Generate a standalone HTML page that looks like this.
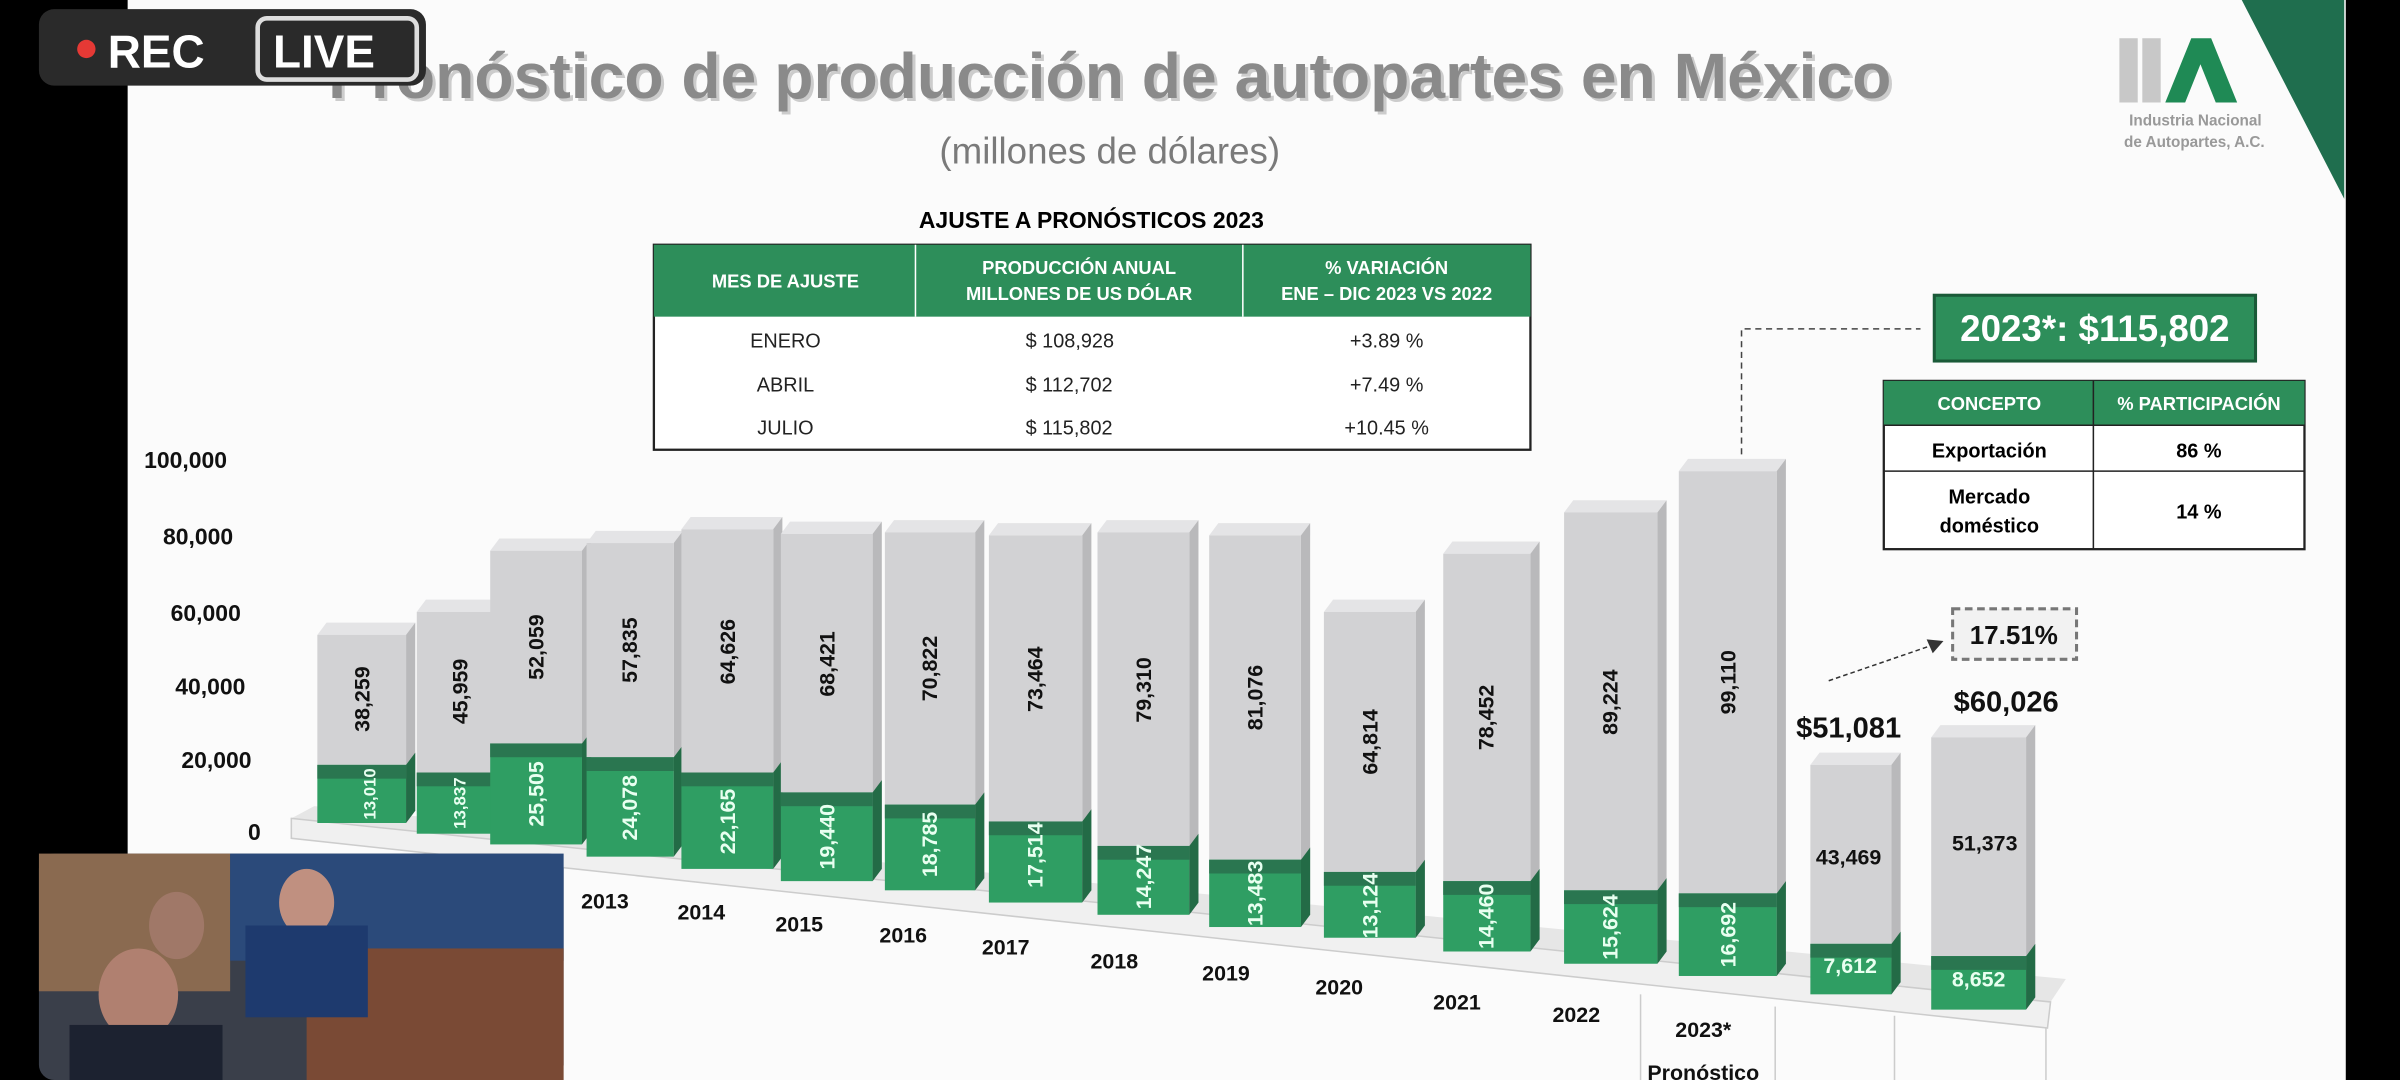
<!DOCTYPE html>
<html><head><meta charset="utf-8"><style>
html,body{margin:0;padding:0;background:#000;}
svg{display:block;}
text{font-family:"Liberation Sans",sans-serif;}
</style></head><body>
<svg width="2400" height="1080" viewBox="0 0 1568 706" xmlns="http://www.w3.org/2000/svg">
<rect x="0" y="0" width="1568" height="706" fill="#000"/>
<rect x="83" y="0" width="1450" height="706" fill="#fbfbfb"/>
<polygon points="1465,0 1532,0 1532,130" fill="#1f6e4e"/>
<rect x="1385" y="25" width="12" height="42" fill="#c8c8c8"/>
<rect x="1400" y="25" width="12" height="42" fill="#c8c8c8"/>
<polygon points="1415,67 1432,25 1445,25 1462,67 1448,67 1438,42 1428,67" fill="#1f8a55"/>
<text x="1478" y="82" font-size="10" font-weight="bold" fill="#999" text-anchor="end">Industria Nacional</text>
<text x="1480" y="96" font-size="10" font-weight="bold" fill="#999" text-anchor="end">de Autopartes, A.C.</text>
<text x="727" y="66" font-size="42" font-weight="bold" fill="#ccc" text-anchor="middle">Pronóstico de producción de autopartes en México</text>
<text x="725" y="64" font-size="42" font-weight="bold" fill="#8a8a8a" text-anchor="middle">Pronóstico de producción de autopartes en México</text>
<text x="725" y="107" font-size="24" fill="#7a7a7a" text-anchor="middle">(millones de dólares)</text>
<rect x="25" y="6" width="253" height="50" rx="10" fill="#2a2a2a"/>
<circle cx="56" cy="32" r="6" fill="#e53935"/>
<text x="70" y="44" font-size="30" font-weight="bold" fill="#fff">REC</text>
<rect x="168" y="12" width="104" height="40" rx="6" fill="none" stroke="#ddd" stroke-width="3"/>
<text x="178" y="44" font-size="30" font-weight="bold" fill="#fff">LIVE</text>
<text x="713" y="149" font-size="15" font-weight="bold" fill="#000" text-anchor="middle">AJUSTE A PRONÓSTICOS 2023</text>
<rect x="427" y="160" width="573" height="134" fill="#fff" stroke="#222" stroke-width="1.5"/>
<rect x="427" y="160" width="573" height="47" fill="#2d8e5a"/>
<line x1="598" y1="160" x2="598" y2="207" stroke="#fff"/><line x1="812" y1="160" x2="812" y2="207" stroke="#fff"/>
<g font-size="12" font-weight="bold" fill="#fff" text-anchor="middle">
<text x="513" y="188">MES DE AJUSTE</text>
<text x="705" y="179">PRODUCCIÓN ANUAL</text><text x="705" y="196">MILLONES DE US DÓLAR</text>
<text x="906" y="179">% VARIACIÓN</text><text x="906" y="196">ENE – DIC    2023 VS 2022</text>
</g>
<g font-size="13" fill="#222">
<text x="513" y="227" text-anchor="middle">ENERO</text><text x="513" y="256" text-anchor="middle">ABRIL</text><text x="513" y="284" text-anchor="middle">JULIO</text>
<text x="670" y="227">$  108,928</text><text x="670" y="256">$  112,702</text><text x="670" y="284">$  115,802</text>
<text x="906" y="227" text-anchor="middle">+3.89 %</text><text x="906" y="256" text-anchor="middle">+7.49 %</text><text x="906" y="284" text-anchor="middle">+10.45 %</text>
</g>
<polyline points="1138,297 1138,215 1255,215" fill="none" stroke="#444" stroke-dasharray="4,3"/>
<rect x="1264" y="193" width="210" height="43" fill="#2d8e5a" stroke="#1a5a38" stroke-width="2"/>
<text x="1369" y="223" font-size="24" font-weight="bold" fill="#fff" text-anchor="middle">2023*: $115,802</text>
<rect x="1231" y="249" width="275" height="110" fill="#fff" stroke="#222" stroke-width="1.5"/>
<rect x="1231" y="249" width="275" height="29" fill="#2d8e5a"/>
<line x1="1368" y1="249" x2="1368" y2="359" stroke="#222"/><line x1="1231" y1="308" x2="1506" y2="308" stroke="#222"/><line x1="1231" y1="278" x2="1506" y2="278" stroke="#222"/>
<g font-size="13" font-weight="bold" text-anchor="middle">
<text x="1300" y="268" fill="#fff" font-size="12">CONCEPTO</text><text x="1437" y="268" fill="#fff" font-size="12">% PARTICIPACIÓN</text>
<text x="1300" y="299">Exportación</text><text x="1437" y="299">86 %</text>
<text x="1300" y="329">Mercado</text><text x="1300" y="348">doméstico</text><text x="1437" y="339">14 %</text>
</g>
<g font-size="15" font-weight="bold" fill="#111" text-anchor="end">
<text x="148" y="306">100,000</text><text x="152" y="356">80,000</text><text x="157" y="406">60,000</text><text x="160" y="454">40,000</text><text x="164" y="502">20,000</text><text x="170" y="549">0</text>
</g>
<polygon points="190,535 205,527 1350,640 1340,655" fill="#e6e6e6"/>
<polygon points="190,535 1340,655 1338,672 190,548" fill="#f0f0f0" stroke="#ccc"/>
<line x1="1072" y1="650" x2="1072" y2="706" stroke="#ccc"/><line x1="1160" y1="658" x2="1160" y2="706" stroke="#ccc"/><line x1="1238" y1="664" x2="1238" y2="706" stroke="#ccc"/><line x1="1337" y1="672" x2="1337" y2="706" stroke="#ccc"/>
<g>
<g><polygon points="207,415 213,407 271,407 265,415" fill="#e4e4e6"/><polygon points="265,415 271,407 271,530 265,538" fill="#b9b9bb"/><rect x="207" y="415" width="58" height="85" fill="#d2d2d4"/><rect x="207" y="500" width="58" height="38" fill="#2f9e63"/><rect x="207" y="500" width="58" height="9" fill="#2a7650"/><polygon points="265,500 271,492 271,530 265,538" fill="#236b46"/></g>
<g><polygon points="272,400 278,392 333,392 327,400" fill="#e4e4e6"/><polygon points="327,400 333,392 333,537 327,545" fill="#b9b9bb"/><rect x="272" y="400" width="55" height="105" fill="#d2d2d4"/><rect x="272" y="505" width="55" height="40" fill="#2f9e63"/><rect x="272" y="505" width="55" height="9" fill="#2a7650"/><polygon points="327,505 333,497 333,537 327,545" fill="#236b46"/></g>
<g><polygon points="320,360 326,352 386,352 380,360" fill="#e4e4e6"/><polygon points="380,360 386,352 386,544 380,552" fill="#b9b9bb"/><rect x="320" y="360" width="60" height="126" fill="#d2d2d4"/><rect x="320" y="486" width="60" height="66" fill="#2f9e63"/><rect x="320" y="486" width="60" height="9" fill="#2a7650"/><polygon points="380,486 386,478 386,544 380,552" fill="#236b46"/></g>
<g><polygon points="383,355 389,347 446,347 440,355" fill="#e4e4e6"/><polygon points="440,355 446,347 446,552 440,560" fill="#b9b9bb"/><rect x="383" y="355" width="57" height="140" fill="#d2d2d4"/><rect x="383" y="495" width="57" height="65" fill="#2f9e63"/><rect x="383" y="495" width="57" height="9" fill="#2a7650"/><polygon points="440,495 446,487 446,552 440,560" fill="#236b46"/></g>
<g><polygon points="445,346 451,338 511,338 505,346" fill="#e4e4e6"/><polygon points="505,346 511,338 511,560 505,568" fill="#b9b9bb"/><rect x="445" y="346" width="60" height="159" fill="#d2d2d4"/><rect x="445" y="505" width="60" height="63" fill="#2f9e63"/><rect x="445" y="505" width="60" height="9" fill="#2a7650"/><polygon points="505,505 511,497 511,560 505,568" fill="#236b46"/></g>
<g><polygon points="510,349 516,341 576,341 570,349" fill="#e4e4e6"/><polygon points="570,349 576,341 576,568 570,576" fill="#b9b9bb"/><rect x="510" y="349" width="60" height="169" fill="#d2d2d4"/><rect x="510" y="518" width="60" height="58" fill="#2f9e63"/><rect x="510" y="518" width="60" height="9" fill="#2a7650"/><polygon points="570,518 576,510 576,568 570,576" fill="#236b46"/></g>
<g><polygon points="578,348 584,340 643,340 637,348" fill="#e4e4e6"/><polygon points="637,348 643,340 643,574 637,582" fill="#b9b9bb"/><rect x="578" y="348" width="59" height="178" fill="#d2d2d4"/><rect x="578" y="526" width="59" height="56" fill="#2f9e63"/><rect x="578" y="526" width="59" height="9" fill="#2a7650"/><polygon points="637,526 643,518 643,574 637,582" fill="#236b46"/></g>
<g><polygon points="646,350 652,342 713,342 707,350" fill="#e4e4e6"/><polygon points="707,350 713,342 713,582 707,590" fill="#b9b9bb"/><rect x="646" y="350" width="61" height="187" fill="#d2d2d4"/><rect x="646" y="537" width="61" height="53" fill="#2f9e63"/><rect x="646" y="537" width="61" height="9" fill="#2a7650"/><polygon points="707,537 713,529 713,582 707,590" fill="#236b46"/></g>
<g><polygon points="717,348 723,340 783,340 777,348" fill="#e4e4e6"/><polygon points="777,348 783,340 783,590 777,598" fill="#b9b9bb"/><rect x="717" y="348" width="60" height="205" fill="#d2d2d4"/><rect x="717" y="553" width="60" height="45" fill="#2f9e63"/><rect x="717" y="553" width="60" height="9" fill="#2a7650"/><polygon points="777,553 783,545 783,590 777,598" fill="#236b46"/></g>
<g><polygon points="790,350 796,342 856,342 850,350" fill="#e4e4e6"/><polygon points="850,350 856,342 856,598 850,606" fill="#b9b9bb"/><rect x="790" y="350" width="60" height="212" fill="#d2d2d4"/><rect x="790" y="562" width="60" height="44" fill="#2f9e63"/><rect x="790" y="562" width="60" height="9" fill="#2a7650"/><polygon points="850,562 856,554 856,598 850,606" fill="#236b46"/></g>
<g><polygon points="865,400 871,392 931,392 925,400" fill="#e4e4e6"/><polygon points="925,400 931,392 931,605 925,613" fill="#b9b9bb"/><rect x="865" y="400" width="60" height="170" fill="#d2d2d4"/><rect x="865" y="570" width="60" height="43" fill="#2f9e63"/><rect x="865" y="570" width="60" height="9" fill="#2a7650"/><polygon points="925,570 931,562 931,605 925,613" fill="#236b46"/></g>
<g><polygon points="943,362 949,354 1006,354 1000,362" fill="#e4e4e6"/><polygon points="1000,362 1006,354 1006,614 1000,622" fill="#b9b9bb"/><rect x="943" y="362" width="57" height="214" fill="#d2d2d4"/><rect x="943" y="576" width="57" height="46" fill="#2f9e63"/><rect x="943" y="576" width="57" height="9" fill="#2a7650"/><polygon points="1000,576 1006,568 1006,614 1000,622" fill="#236b46"/></g>
<g><polygon points="1022,335 1028,327 1089,327 1083,335" fill="#e4e4e6"/><polygon points="1083,335 1089,327 1089,622 1083,630" fill="#b9b9bb"/><rect x="1022" y="335" width="61" height="247" fill="#d2d2d4"/><rect x="1022" y="582" width="61" height="48" fill="#2f9e63"/><rect x="1022" y="582" width="61" height="9" fill="#2a7650"/><polygon points="1083,582 1089,574 1089,622 1083,630" fill="#236b46"/></g>
<g><polygon points="1097,308 1103,300 1167,300 1161,308" fill="#e4e4e6"/><polygon points="1161,308 1167,300 1167,630 1161,638" fill="#b9b9bb"/><rect x="1097" y="308" width="64" height="276" fill="#d2d2d4"/><rect x="1097" y="584" width="64" height="54" fill="#2f9e63"/><rect x="1097" y="584" width="64" height="9" fill="#2a7650"/><polygon points="1161,584 1167,576 1167,630 1161,638" fill="#236b46"/></g>
<g><polygon points="1183,500 1189,492 1242,492 1236,500" fill="#e4e4e6"/><polygon points="1236,500 1242,492 1242,642 1236,650" fill="#b9b9bb"/><rect x="1183" y="500" width="53" height="117" fill="#d2d2d4"/><rect x="1183" y="617" width="53" height="33" fill="#2f9e63"/><rect x="1183" y="617" width="53" height="9" fill="#2a7650"/><polygon points="1236,617 1242,609 1242,642 1236,650" fill="#236b46"/></g>
<g><polygon points="1262,482 1268,474 1330,474 1324,482" fill="#e4e4e6"/><polygon points="1324,482 1330,474 1330,652 1324,660" fill="#b9b9bb"/><rect x="1262" y="482" width="62" height="143" fill="#d2d2d4"/><rect x="1262" y="625" width="62" height="35" fill="#2f9e63"/><rect x="1262" y="625" width="62" height="9" fill="#2a7650"/><polygon points="1324,625 1330,617 1330,652 1324,660" fill="#236b46"/></g>
</g>
<g font-size="14" font-weight="bold" fill="#111" text-anchor="middle">
<text transform="translate(241,457) rotate(-90)">38,259</text>
<text transform="translate(305,452) rotate(-90)">45,959</text>
<text transform="translate(355,423) rotate(-90)">52,059</text>
<text transform="translate(416,425) rotate(-90)">57,835</text>
<text transform="translate(480,426) rotate(-90)">64,626</text>
<text transform="translate(545,434) rotate(-90)">68,421</text>
<text transform="translate(612,437) rotate(-90)">70,822</text>
<text transform="translate(681,444) rotate(-90)">73,464</text>
<text transform="translate(752,451) rotate(-90)">79,310</text>
<text transform="translate(825,456) rotate(-90)">81,076</text>
<text transform="translate(900,485) rotate(-90)">64,814</text>
<text transform="translate(976,469) rotate(-90)">78,452</text>
<text transform="translate(1057,459) rotate(-90)">89,224</text>
<text transform="translate(1134,446) rotate(-90)">99,110</text>
<text x="1208" y="565">43,469</text>
<text x="1297" y="556">51,373</text>
</g>
<g font-size="11" font-weight="bold" fill="#e8fff0" text-anchor="middle">
<text transform="translate(245,519) rotate(-90)">13,010</text>
<text transform="translate(304,525) rotate(-90)">13,837</text>
<text transform="translate(355,519) rotate(-90)" font-size="14">25,505</text>
<text transform="translate(416,528) rotate(-90)" font-size="14">24,078</text>
<text transform="translate(480,537) rotate(-90)" font-size="14">22,165</text>
<text transform="translate(545,547) rotate(-90)" font-size="14">19,440</text>
<text transform="translate(612,552) rotate(-90)" font-size="14">18,785</text>
<text transform="translate(681,559) rotate(-90)" font-size="14">17,514</text>
<text transform="translate(752,573) rotate(-90)" font-size="14">14,247</text>
<text transform="translate(825,584) rotate(-90)" font-size="14">13,483</text>
<text transform="translate(900,592) rotate(-90)" font-size="14">13,124</text>
<text transform="translate(976,599) rotate(-90)" font-size="14">14,460</text>
<text transform="translate(1057,606) rotate(-90)" font-size="14">15,624</text>
<text transform="translate(1134,611) rotate(-90)" font-size="14">16,692</text>
<text x="1209" y="636" font-size="14">7,612</text>
<text x="1293" y="645" font-size="14">8,652</text>
</g>
<g font-size="14" font-weight="bold" fill="#111" text-anchor="middle">
<text x="395" y="594">2013</text><text x="458" y="601">2014</text><text x="522" y="609">2015</text><text x="590" y="616">2016</text><text x="657" y="624">2017</text><text x="728" y="633">2018</text><text x="801" y="641">2019</text><text x="875" y="650">2020</text><text x="952" y="660">2021</text><text x="1030" y="668">2022</text><text x="1113" y="678">2023*</text><text x="1113" y="706">Pronóstico</text>
</g>
<text x="1208" y="482" font-size="19" font-weight="bold" fill="#111" text-anchor="middle">$51,081</text>
<text x="1311" y="465" font-size="19" font-weight="bold" fill="#111" text-anchor="middle">$60,026</text>
<rect x="1276" y="398" width="81" height="33" fill="#f2f2f2" stroke="#777" stroke-width="2" stroke-dasharray="5,3"/>
<text x="1316" y="421" font-size="17" font-weight="bold" fill="#111" text-anchor="middle">17.51%</text>
<line x1="1195" y1="445" x2="1262" y2="422" stroke="#333" stroke-dasharray="3,2"/>
<polygon points="1270,419 1259,418 1263,427" fill="#333"/>
<rect x="25" y="558" width="343" height="148" rx="10" fill="#3a3f4a"/>
<rect x="25" y="558" width="125" height="90" fill="#8a6a50"/>
<rect x="150" y="558" width="218" height="70" fill="#2b4a7a"/>
<rect x="200" y="620" width="168" height="86" fill="#7a4a35"/>
<ellipse cx="90" cy="650" rx="26" ry="30" fill="#b08070"/>
<rect x="45" y="670" width="100" height="36" fill="#1c2230"/>
<ellipse cx="200" cy="590" rx="18" ry="22" fill="#c09080"/>
<rect x="160" y="605" width="80" height="60" fill="#1e3a6e"/>
<ellipse cx="115" cy="605" rx="18" ry="22" fill="#a07868"/>
</svg>
</body></html>
